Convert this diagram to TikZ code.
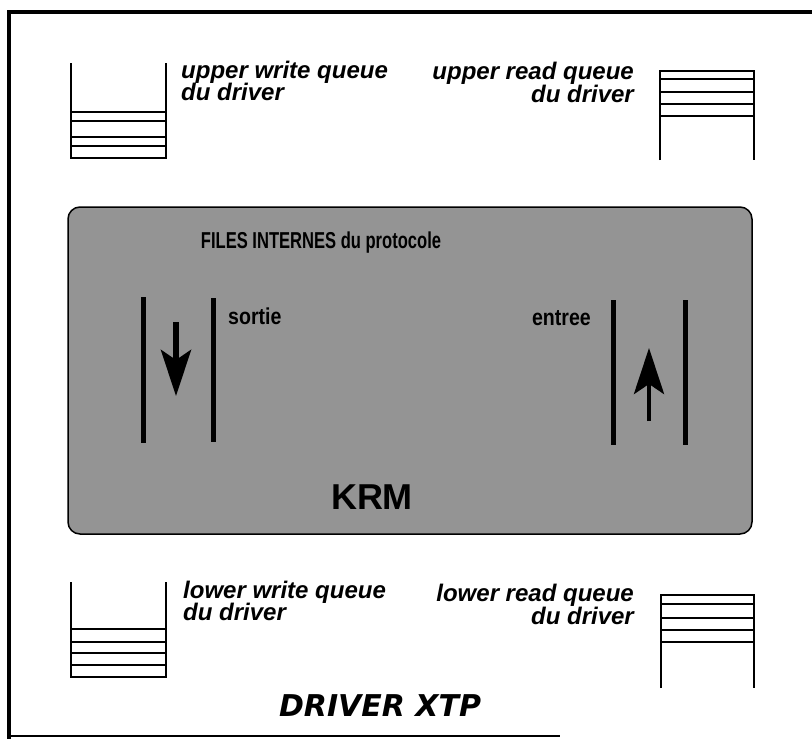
\documentclass[tikz,border=0pt]{standalone}
\usepackage{fontspec}
\setmainfont{Liberation Sans}
\newfontfamily\djv{DejaVu Sans}
\usetikzlibrary{arrows.meta}
\definecolor{dither}{gray}{0.58}
\tikzset{
  frame/.style={line width=4.5pt},
  queue/.style={line width=1.5pt},
  qlab/.style={inner sep=0pt, font=\bfseries\itshape\fontsize{24}{26}\selectfont},
  wall/.style={line width=5pt},
  flow/.style={line width=6pt, -{Stealth[length=46pt,width=30pt,inset=10pt]}},
  hdr/.style={inner sep=0pt, font=\bfseries\fontsize{23}{26}\selectfont},
}
\begin{document}
\begin{tikzpicture}[x=1pt,y=-1pt]
\useasboundingbox (0,0) rectangle (812,739);
% outer frame
\draw[frame] (9,739) -- (9,12) -- (812,12);
\draw[line width=2pt] (9,736) -- (560,736);

% upper write queue (left)
\draw[queue] (71,63) -- (71,158) -- (166,158) -- (166,63);
\foreach \y in {112,121,137,146} \draw[queue] (71,\y) -- (166,\y);
\node[qlab, anchor=base west] (uw1) at (181,78) {upper write queue};
\node[qlab, anchor=base west] (uw2) at (181,100) {du driver};

% upper read queue (right)
\draw[queue] (660,160) -- (660,71) -- (754,71) -- (754,160);
\foreach \y in {79,92,104,116} \draw[queue] (660,\y) -- (754,\y);
\node[qlab, anchor=base east] (ur1) at (634,79) {upper read queue};
\node[qlab, anchor=base east] (ur2) at (634,102) {du driver};

% KRM box
\node[draw, line width=1.5pt, fill=dither, rounded corners=12pt,
      minimum width=684pt, minimum height=327pt] (krm) at (410,370.5) {};
\node[hdr] (files) at (321,243) {\scalebox{0.72}[1]{FILES INTERNES du protocole}};
\node[hdr, anchor=west] (sortie) at (228,316) {\scalebox{0.85}[1]{sortie}};
\node[hdr, anchor=east] (entree) at (591,318) {\scalebox{0.85}[1]{entree}};
\node[inner sep=0pt, font=\bfseries\fontsize{36}{40}\selectfont] (krmlab) at (372,497) {KRM};

% output file (sortie)
\draw[wall] (143,297) -- (143,443);
\draw[wall] (213,298) -- (213,442);
\coordinate (s1) at (176,322);
\coordinate (s2) at (176,396);
\draw[flow] (s1) -- (s2);

% input file (entree)
\draw[wall] (613,300) -- (613,445);
\draw[wall] (685,300) -- (685,445);
\coordinate (e1) at (649,421);
\coordinate (e2) at (649,348);
\draw[flow, line width=4.5pt] (e1) -- (e2);

% lower write queue (left)
\draw[queue] (71,582) -- (71,677) -- (166,677) -- (166,582);
\foreach \y in {629,642,653,665} \draw[queue] (71,\y) -- (166,\y);
\node[qlab, anchor=base west] (lw1) at (183,598) {lower write queue};
\node[qlab, anchor=base west] (lw2) at (183,620) {du driver};

% lower read queue (right)
\draw[queue] (661,688) -- (661,595) -- (754,595) -- (754,688);
\foreach \y in {604,618,630,642} \draw[queue] (661,\y) -- (754,\y);
\node[qlab, anchor=base east] (lr1) at (634,601) {lower read queue};
\node[qlab, anchor=base east] (lr2) at (634,624) {du driver};

% title
\node[inner sep=0pt, font=\djv\bfseries\itshape\fontsize{30}{34}\selectfont] (title) at (380,706) {DRIVER XTP};
\end{tikzpicture}
\end{document}
